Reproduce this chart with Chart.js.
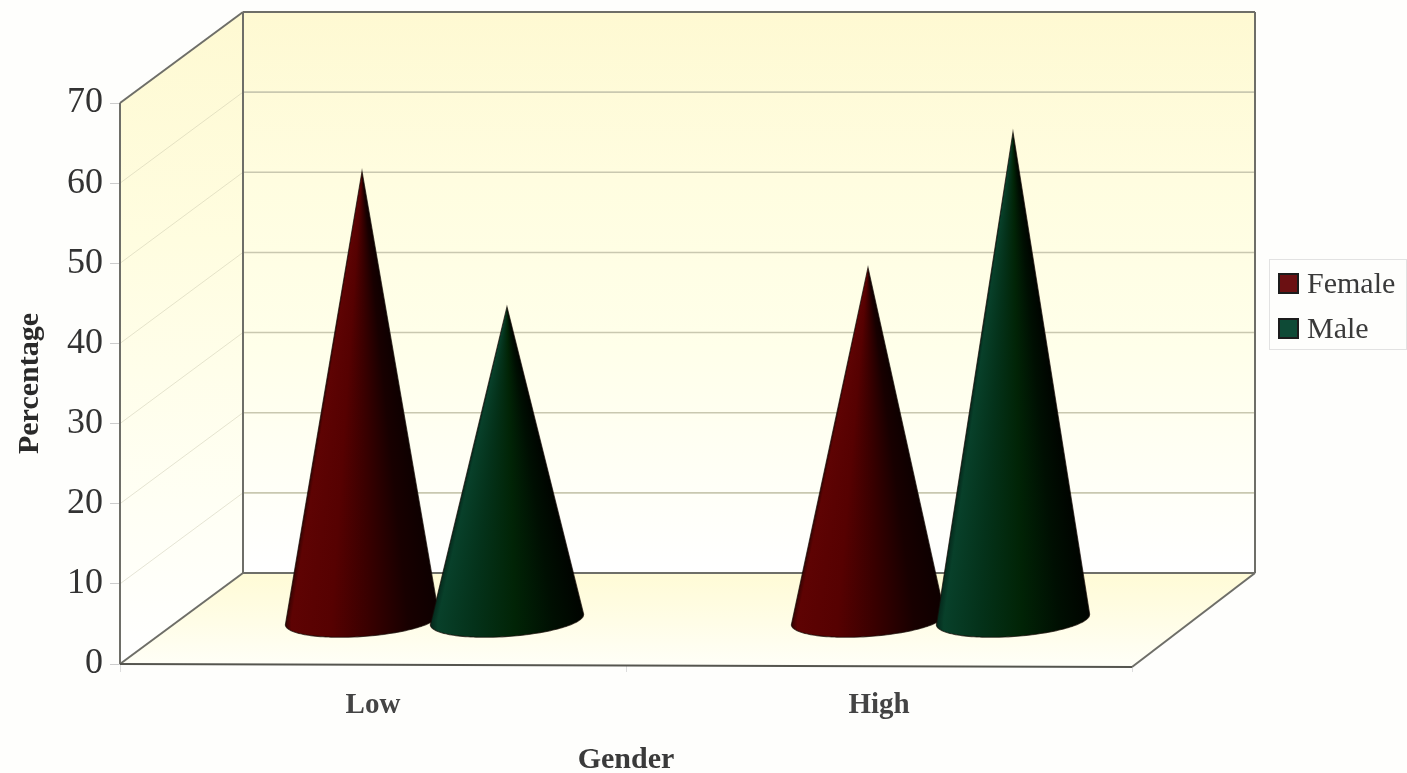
<!DOCTYPE html>
<html>
<head>
<meta charset="utf-8">
<title>Percentage by gender</title>
<script src="https://cdn.jsdelivr.net/npm/chart.js@4"></script>
<style>
    html, body { margin: 0; padding: 0; background: #fefefc; }
    canvas { display: block; }
</style>
</head>
<body>
<canvas id="myChart" width="1407" height="773"></canvas>
<script>
const categories = ['Low', 'High'];
const femaleValues = [55.8, 43.8];
const maleValues = [38.9, 60.7];
const yTicks = [0, 10, 20, 30, 40, 50, 60, 70];

const serif = '"Liberation Serif", "Times New Roman", serif';
const depthX = 123;
const depthY = -91;
const frameColor = '#6e6e68';

// shading runs around the cone, left edge to right edge
const femaleShade = [[0, '#300202'], [0.04, '#5e0303'], [0.3, '#560101'], [0.55, '#380000'], [0.8, '#180000'], [1, '#0e0000']];
const maleShade = [[0, '#04261a'], [0.05, '#08402a'], [0.28, '#04321a'], [0.55, '#012406'], [0.8, '#000f02'], [1, '#000400']];

function fillPoly(ctx, points, fill) {
    ctx.beginPath();
    points.forEach((p, i) => i ? ctx.lineTo(p[0], p[1]) : ctx.moveTo(p[0], p[1]));
    ctx.closePath();
    ctx.fillStyle = fill;
    ctx.fill();
}

function line(ctx, x1, y1, x2, y2, color, width) {
    ctx.beginPath();
    ctx.moveTo(x1, y1);
    ctx.lineTo(x2, y2);
    ctx.strokeStyle = color;
    ctx.lineWidth = width;
    ctx.stroke();
}

const wallsPlugin = {
    id: 'walls',
    beforeDatasetsDraw(chart) {
        const ctx = chart.ctx;
        const x = chart.scales.x;
        const y = chart.scales.y;
        const left = x.left, right = x.right;
        const top = y.getPixelForValue(70), bottom = y.getPixelForValue(0);
        const backLeft = left + depthX, backRight = right + depthX;
        const backTop = top + depthY, backBottom = bottom + depthY;
        const frontRightY = bottom + 3;

        ctx.save();
        const wall = ctx.createLinearGradient(0, backTop, 0, backBottom);
        wall.addColorStop(0, '#fef9d2');
        wall.addColorStop(0.3, '#fffde0');
        wall.addColorStop(0.6, '#ffffea');
        wall.addColorStop(1, '#ffffff');
        fillPoly(ctx, [[backLeft, backTop], [backRight, backTop], [backRight, backBottom], [backLeft, backBottom]], wall);

        const side = ctx.createLinearGradient(0, backTop, 0, bottom);
        side.addColorStop(0, '#fef9d2');
        side.addColorStop(0.35, '#fffde0');
        side.addColorStop(0.75, '#fffff4');
        side.addColorStop(1, '#ffffff');
        fillPoly(ctx, [[left, top], [backLeft, backTop], [backLeft, backBottom], [left, bottom]], side);

        const floor = ctx.createLinearGradient(0, backBottom, 0, frontRightY);
        floor.addColorStop(0, '#fffbd6');
        floor.addColorStop(0.5, '#fffde6');
        floor.addColorStop(1, '#fffff8');
        fillPoly(ctx, [[left, bottom], [backLeft, backBottom], [backRight, backBottom], [right, frontRightY]], floor);

        // gridlines on the back wall and the side wall
        yTicks.slice(1, -1).forEach(v => {
            const py = y.getPixelForValue(v);
            line(ctx, backLeft, py + depthY, backRight, py + depthY, '#c9c8b0', 1.6);
            line(ctx, left, py, backLeft, py + depthY, 'rgba(190,188,160,0.4)', 1);
        });

        // box edges
        line(ctx, left, top, left, bottom, frameColor, 2);
        line(ctx, left, top, backLeft, backTop, frameColor, 2);
        line(ctx, backLeft, backTop, backRight, backTop, frameColor, 2);
        line(ctx, backLeft, backTop, backLeft, backBottom, frameColor, 2);
        line(ctx, backRight, backTop, backRight, backBottom, frameColor, 2);
        line(ctx, backLeft, backBottom, backRight, backBottom, frameColor, 2);
        line(ctx, left, bottom, backLeft, backBottom, frameColor, 2);
        line(ctx, backRight, backBottom, right, frontRightY, frameColor, 2);
        line(ctx, left, bottom, right, frontRightY, '#55554f', 2);
        ctx.restore();
    }
};

const conesPlugin = {
    id: 'cones',
    afterDatasetsDraw(chart) {
        const ctx = chart.ctx;
        const steps = 80;
        const tilt = -0.07;
        chart.data.datasets.forEach((ds, di) => {
            chart.getDatasetMeta(di).data.forEach(bar => {
                const cx = bar.x + depthX / 2;
                const cy = bar.base + depthY / 2 + 1.5;
                const tipY = bar.y + depthY / 2;
                const rx = bar.width * 0.53;
                const ry = 17;

                const outline = () => {
                    ctx.beginPath();
                    ctx.moveTo(cx, tipY);
                    for (let i = 0; i <= steps; i++) {
                        const a = Math.PI - Math.PI * i / steps;
                        const ex = rx * Math.cos(a);
                        const ey = ry * Math.sin(a);
                        ctx.lineTo(cx + ex * Math.cos(tilt) - ey * Math.sin(tilt), cy + ex * Math.sin(tilt) + ey * Math.cos(tilt));
                    }
                    ctx.closePath();
                };

                ctx.save();
                outline();
                ctx.clip();
                // one row at a time so the shading narrows towards the tip
                for (let py = Math.floor(tipY) - 1; py < cy + ry + 8; py++) {
                    const half = Math.max(1, rx * Math.min(1, (py - tipY) / (cy - tipY)));
                    const g = ctx.createLinearGradient(cx - half, 0, cx + half, 0);
                    ds.coneShade.forEach(s => g.addColorStop(s[0], s[1]));
                    ctx.fillStyle = g;
                    ctx.fillRect(cx - half - 8, py, half * 2 + 16, 1);
                }
                ctx.restore();

                ctx.save();
                outline();
                ctx.strokeStyle = 'rgba(20,10,5,0.7)';
                ctx.lineWidth = 1.1;
                ctx.stroke();
                ctx.restore();
            });
        });
    }
};

const legendPlugin = {
    id: 'coneLegend',
    afterDraw(chart) {
        const ctx = chart.ctx;
        ctx.save();
        ctx.strokeStyle = '#e2e2e2';
        ctx.lineWidth = 1;
        ctx.strokeRect(1269.5, 259.5, 137, 90);
        ctx.font = '30px ' + serif;
        ctx.textBaseline = 'middle';
        ctx.textAlign = 'left';
        chart.data.datasets.forEach((ds, i) => {
            const rowY = 284 + i * 45;
            ctx.fillStyle = ds.swatch;
            ctx.strokeStyle = '#1c1c1c';
            ctx.lineWidth = 2;
            ctx.fillRect(1279, rowY - 10, 19, 19);
            ctx.strokeRect(1279, rowY - 10, 19, 19);
            ctx.fillStyle = '#3a3a3a';
            ctx.fillText(ds.label, 1307, rowY + 1);
        });
        ctx.restore();
    }
};

new Chart(document.getElementById('myChart').getContext('2d'), {
    type: 'bar',
    data: {
        labels: categories,
        datasets: [
            { label: 'Female', data: femaleValues, backgroundColor: 'rgba(0,0,0,0)', coneShade: femaleShade, swatch: '#6b1012' },
            { label: 'Male', data: maleValues, backgroundColor: 'rgba(0,0,0,0)', coneShade: maleShade, swatch: '#0e4a36' }
        ]
    },
    options: {
        responsive: false,
        animation: false,
        layout: { padding: { top: 103, right: 275, left: 0, bottom: 0 } },
        datasets: { bar: { categoryPercentage: 0.573, barPercentage: 1 } },
        plugins: {
            legend: { display: false },
            tooltip: { enabled: false }
        },
        scales: {
            x: {
                afterFit(axis) { axis.height = 109; },
                grid: { drawOnChartArea: false, tickLength: 8, color: '#dddddd' },
                border: { display: false },
                ticks: { font: { family: serif, size: 29, weight: 'bold' }, color: '#444444', padding: 16 },
                title: { display: true, text: 'Gender', font: { family: serif, size: 30, weight: 'bold' }, color: '#3a3a3a', padding: { top: 6, bottom: -5 } }
            },
            y: {
                min: 0,
                max: 70,
                afterFit(axis) { axis.width = 120; },
                afterBuildTicks(axis) { axis.ticks = yTicks.map(v => ({ value: v })); },
                grid: { drawOnChartArea: false, tickLength: 10, color: '#cccccc' },
                border: { display: false },
                ticks: { font: { family: serif, size: 36 }, color: '#333333', padding: 7 },
                title: { display: true, text: 'Percentage', font: { family: serif, size: 30, weight: 'bold' }, color: '#2a2a2a', padding: { top: 12, bottom: 0 } }
            }
        }
    },
    plugins: [wallsPlugin, conesPlugin, legendPlugin]
});
</script>
</body>
</html>
